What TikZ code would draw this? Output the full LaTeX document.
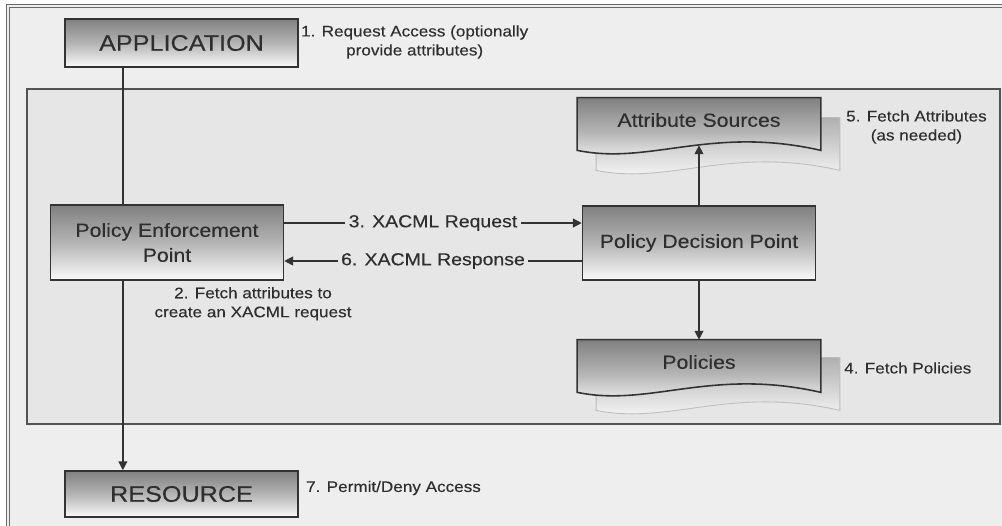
\documentclass[tikz,border=0pt]{standalone}
\usepackage{fontspec}
\newfontfamily\diagfont[FakeStretch=1.12,FakeBold=0.25]{Liberation Sans}
\usepackage{xcolor}
\usepackage{tikz}
\usetikzlibrary{arrows.meta,positioning,calc,backgrounds}

\definecolor{pagebg}{HTML}{EEEEEE}
\definecolor{panelbg}{HTML}{E6E6E6}
\definecolor{framegray}{HTML}{6A6A6A}
\definecolor{boxline}{HTML}{333333}
\definecolor{boxtop}{HTML}{808080}
\definecolor{boxmid}{HTML}{B4B4B4}
\definecolor{boxbottom}{HTML}{FAFAFA}
\definecolor{shadowtop}{HTML}{AFAFAF}
\definecolor{shadowline}{HTML}{BDBDBD}
\definecolor{ink}{HTML}{2E2E2E}

% outline of a document symbol round a node
\newcommand{\docpath}[1]{(#1.north west) -- (#1.north east) -- ($(#1.south east)+(0,8)$)
  .. controls ($(#1.south east)+(-110,-17)$) and ($(#1.south west)+(73,23)$) .. ($(#1.south west)+(0,8)$) -- cycle}

\begin{document}
\begin{tikzpicture}[x=0.02cm, y=-0.02cm,
    titlebox/.style={draw=boxline, line width=0.9pt, top color=boxtop, bottom color=boxbottom, middle color=boxmid,
      text=ink, font=\diagfont\fontsize{12.8}{15}\selectfont, minimum width=4.66cm, inner sep=0pt},
    unitbox/.style={draw=boxline, line width=0.9pt, top color=boxtop, bottom color=boxbottom, middle color=boxmid,
      text=ink, font=\diagfont\fontsize{10.8}{14.2}\selectfont, align=center, minimum width=4.66cm, inner sep=0pt},
    docnode/.style={minimum width=4.86cm, minimum height=0.88cm, inner sep=0pt, text=ink,
      font=\diagfont\fontsize{10.8}{14.2}\selectfont},
    doc/.style={draw=boxline, line width=0.9pt, top color=boxtop, bottom color=boxbottom, middle color=boxmid},
    shadowdoc/.style={draw=shadowline, line width=0.5pt, top color=shadowtop, bottom color=white},
    line/.style={draw=boxline, line width=0.75pt},
    flow/.style={line, -{Triangle[length=5pt,width=5pt]}},
    steplabel/.style={text=ink, font=\diagfont\fontsize{8.7}{10.8}\selectfont, align=center, inner sep=0pt},
    xacml/.style={text=ink, font=\diagfont\fontsize{9.9}{12}\selectfont, fill=panelbg, inner xsep=2pt, inner ysep=1pt}]
    \useasboundingbox (0,0) rectangle (1002,525);
    \clip (0,0) rectangle (1002,525);

    % Boxes
    \node (app) [titlebox, minimum height=0.96cm] at (181.5,43) {APPLICATION};
    \node (pep) [unitbox, minimum height=1.5cm] at (167,242.5) {Policy Enforcement\\Point};
    \node (pdp) [unitbox, minimum height=1.48cm] at (699,243) {Policy Decision Point};
    \node (res) [titlebox, minimum height=0.92cm] at (181.5,494) {RESOURCE};

    % Documents
    \node (attr) [docnode] at (699,120) {Attribute Sources};
    \node (attrshadow) [docnode] at ($(attr)+(19,20)$) {};
    \node (pol) [docnode] at (699,362) {Policies};
    \node (polshadow) [docnode] at ($(pol)+(19,18)$) {};

    \begin{scope}[on background layer]
        \fill[white] (0,0) rectangle (1002,525);
        \draw[draw=framegray, line width=0.6pt, double=pagebg, double distance=1.2pt, fill=pagebg] (8,6) rectangle (1040,560);
        \draw[draw=boxline!85, line width=0.6pt, fill=panelbg] (27,89) rectangle (1000,424);
        \draw[shadowdoc] \docpath{attrshadow};
        \draw[doc] \docpath{attr};
        \draw[shadowdoc] \docpath{polshadow};
        \draw[doc] \docpath{pol};
    \end{scope}

    % Flows
    \coordinate (appfoot) at ($(app.south west)!0.25!(app.south east)$);
    \draw[line] (appfoot) -- (appfoot |- pep.north);
    \draw[flow] (appfoot |- pep.south) -- (appfoot |- res.north);

    \coordinate (reqstart) at ($(pep.east)+(0,-19.5)$);
    \draw[flow] (reqstart) -- (reqstart -| pdp.west) node[xacml, midway] (reqlabel) {3. XACML Request};
    \coordinate (respstart) at ($(pdp.west)+(0,18)$);
    \draw[flow] (respstart) -- (respstart -| pep.east) node[xacml, midway] (resplabel) {6. XACML Response};

    \draw[flow, shorten >=0.06cm] (pdp.north) -- (attr.south);
    \draw[flow] (pdp.south) -- (pol.north);

    % Step labels
    \node (step1) [steplabel, right=0.04cm of app, yshift=0.02cm] {1. Request Access (optionally\\provide attributes)};
    \node (step2) [steplabel] at ($(pep.south)+(86,23)$) {2. Fetch attributes to\\create an XACML request};
    \node (step4) [steplabel, right=0.46cm of pol, yshift=-0.12cm] {4. Fetch Policies};
    \node (step5) [steplabel, right=0.5cm of attr, yshift=-0.14cm] {5. Fetch Attributes\\(as needed)};
    \node (step7) [steplabel, right=0.14cm of res, yshift=0.12cm] {7. Permit/Deny Access};
\end{tikzpicture}
\end{document}
